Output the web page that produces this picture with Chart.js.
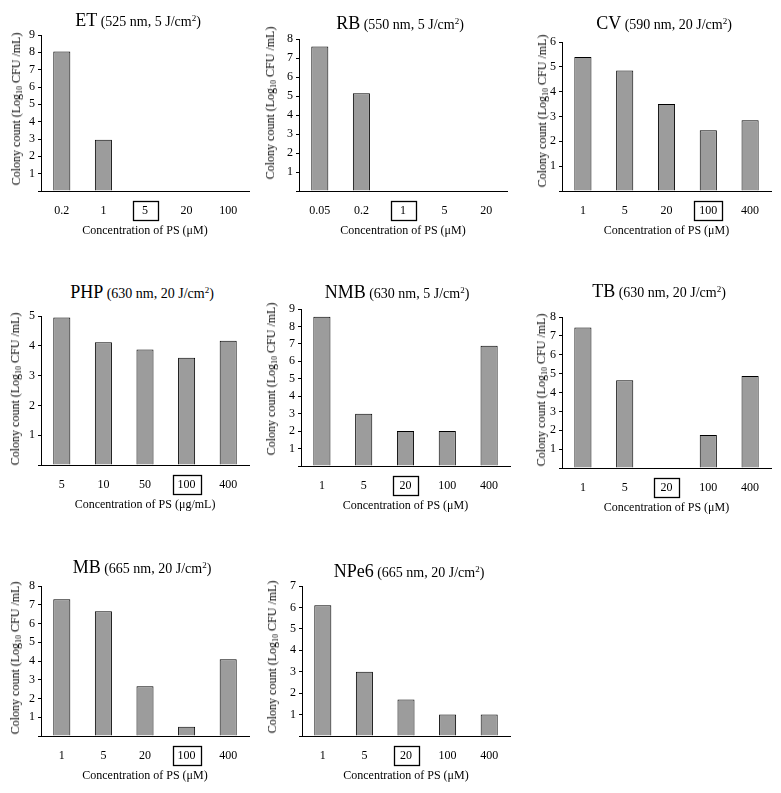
<!DOCTYPE html>
<html lang="en">
<head>
    <meta charset="UTF-8">
    <title>Colony count vs PS concentration</title>
    <script src="https://cdn.jsdelivr.net/npm/chart.js"></script>
    <style>
        body {
            margin: 0;
            background: #fff;
            font-family: "Liberation Serif", "Times New Roman", serif;
        }
        #stage {
            position: relative;
            width: 781px;
            height: 793px;
            overflow: hidden;
        }
        #stage canvas {
            position: absolute;
        }
        .ptitle {
            position: absolute;
            transform: translate(-50%, -50%);
            white-space: nowrap;
            color: #000;
            font-size: 14px;
            line-height: 1;
        }
        .ptitle .ps {
            font-size: 18px;
        }
        .ptitle sup {
            font-size: 9px;
            vertical-align: 5px;
            line-height: 0;
        }
        .ytitle {
            position: absolute;
            transform: translate(-50%, -50%) rotate(-90deg);
            white-space: nowrap;
            color: #000;
            font-size: 12px;
            line-height: 1;
        }
        .ytitle sub {
            font-size: 8px;
            vertical-align: -2px;
            line-height: 0;
        }
    </style>
</head>
<body>
    <div id="stage"></div>

    <script>
        // data (Log10 CFU/mL)
        const etLabels = ['0.2', '1', '5', '20', '100'];
        const etValues = [8.05, 2.95, 0, 0, 0];

        const rbLabels = ['0.05', '0.2', '1', '5', '20'];
        const rbValues = [7.6, 5.15, 0, 0, 0];

        const cvLabels = ['1', '5', '20', '100', '400'];
        const cvValues = [5.4, 4.85, 3.5, 2.45, 2.85];

        const phpLabels = ['5', '10', '50', '100', '400'];
        const phpValues = [4.95, 4.12, 3.88, 3.6, 4.17];

        const nmbLabels = ['1', '5', '20', '100', '400'];
        const nmbValues = [8.55, 3.0, 2.0, 2.0, 6.9];

        const tbLabels = ['1', '5', '20', '100', '400'];
        const tbValues = [7.45, 4.65, 0, 1.75, 4.88];

        const mbLabels = ['1', '5', '20', '100', '400'];
        const mbValues = [7.3, 6.65, 2.65, 0.5, 4.1];

        const npe6Labels = ['1', '5', '20', '100', '400'];
        const npe6Values = [6.1, 3.0, 1.7, 1.0, 1.0];

        // y axis maximum of each panel
        const yMaxes = { et: 9, rb: 8, cv: 6, php: 5, nmb: 9, tb: 8, mb: 8, npe6: 7 };

        // layout: area = [left, right, top, bottom] of plot area; title / yTitle = centre points
        const panels = [
            { id: 'et', name: 'ET', cond: '525 nm, 5 J/cm', unit: 'μM', labels: etLabels, values: etValues, boxed: 2,
              area: [41, 249, 35, 191], title: [138, 20], yTitle: [16, 109] },
            { id: 'rb', name: 'RB', cond: '550 nm, 5 J/cm', unit: 'μM', labels: rbLabels, values: rbValues, boxed: 2,
              area: [299, 507, 39, 191], title: [400, 23], yTitle: [270, 103] },
            { id: 'cv', name: 'CV', cond: '590 nm, 20 J/cm', unit: 'μM', labels: cvLabels, values: cvValues, boxed: 3,
              area: [562, 771, 42, 191], title: [664, 23], yTitle: [542, 111] },
            { id: 'php', name: 'PHP', cond: '630 nm, 20 J/cm', unit: 'μg/mL', labels: phpLabels, values: phpValues, boxed: 3,
              area: [41, 249, 316, 465], title: [142, 292], yTitle: [15, 389] },
            { id: 'nmb', name: 'NMB', cond: '630 nm, 5 J/cm', unit: 'μM', labels: nmbLabels, values: nmbValues, boxed: 2,
              area: [301, 510, 309, 466], title: [397, 292], yTitle: [271, 379] },
            { id: 'tb', name: 'TB', cond: '630 nm, 20 J/cm', unit: 'μM', labels: tbLabels, values: tbValues, boxed: 2,
              area: [562, 771, 317, 468], title: [659, 291], yTitle: [541, 390] },
            { id: 'mb', name: 'MB', cond: '665 nm, 20 J/cm', unit: 'μM', labels: mbLabels, values: mbValues, boxed: 3,
              area: [41, 249, 586, 736], title: [142, 567], yTitle: [15, 658] },
            { id: 'npe6', name: 'NPe6', cond: '665 nm, 20 J/cm', unit: 'μM', labels: npe6Labels, values: npe6Values, boxed: 2,
              area: [302, 510, 586, 736], title: [409, 571], yTitle: [272, 657] }
        ];

        const serif = '"Liberation Serif", "Times New Roman", serif';
        const tickFont = { family: serif, size: 12 };

        // draws the square frame round the highlighted concentration
        const boxLabel = {
            id: 'boxLabel',
            afterDraw(chart, args, opts) {
                if (opts.index == null) return;
                const xs = chart.scales.x;
                const ctx = chart.ctx;
                const x = xs.getPixelForTick(opts.index);
                const yc = chart.chartArea.bottom + 19.5;
                ctx.save();
                ctx.font = '12px ' + serif;
                const w = Math.max(ctx.measureText(chart.data.labels[opts.index]).width + 10, 25);
                const h = 19;
                ctx.strokeStyle = '#000';
                ctx.lineWidth = 1.3;
                ctx.strokeRect(Math.round(x - w / 2) + 0.5, Math.round(yc - h / 2) + 0.5, Math.round(w), h);
                ctx.restore();
            }
        };

        const stage = document.getElementById('stage');

        panels.forEach(p => {
            const [L, R, T, B] = p.area;
            const left = L - 40;
            const top = T - 12;
            const canvas = document.createElement('canvas');
            canvas.width = R - left + 8;
            canvas.height = B - top + 52;
            canvas.style.left = left + 'px';
            canvas.style.top = top + 'px';
            stage.appendChild(canvas);

            // panel title
            const t = document.createElement('div');
            t.className = 'ptitle';
            t.style.left = p.title[0] + 'px';
            t.style.top = p.title[1] + 'px';
            t.innerHTML = '<span class="ps">' + p.name + '</span> (' + p.cond + '<sup>2</sup>)';
            stage.appendChild(t);

            // y axis title with subscript
            const yt = document.createElement('div');
            yt.className = 'ytitle';
            yt.style.left = p.yTitle[0] + 'px';
            yt.style.top = p.yTitle[1] + 'px';
            yt.innerHTML = 'Colony count (Log<sub>10</sub> CFU /mL)';
            stage.appendChild(yt);

            new Chart(canvas, {
                type: 'bar',
                data: {
                    labels: p.labels,
                    datasets: [{
                        data: p.values,
                        backgroundColor: '#9c9c9c',
                        borderColor: '#000',
                        borderWidth: c => (c.raw > 0 ? 1 : 0),
                        barPercentage: 0.41,
                        categoryPercentage: 1
                    }]
                },
                options: {
                    responsive: false,
                    animation: false,
                    layout: { padding: { top: 12, right: 8, left: 0, bottom: 0 } },
                    plugins: {
                        legend: { display: false },
                        tooltip: { enabled: false },
                        boxLabel: { index: p.boxed }
                    },
                    scales: {
                        x: {
                            grid: { display: true, drawOnChartArea: false, drawTicks: false },
                            border: { color: '#000', width: 1 },
                            ticks: { color: '#000', font: tickFont, padding: 13, maxRotation: 0, autoSkip: false },
                            title: {
                                display: true,
                                text: 'Concentration of PS (' + p.unit + ')',
                                color: '#000',
                                font: tickFont,
                                padding: { top: 0, bottom: 5 }
                            },
                            afterFit: s => { s.height = 52; }
                        },
                        y: {
                            min: 0,
                            max: yMaxes[p.id],
                            ticks: {
                                stepSize: 1,
                                autoSkip: false,
                                color: '#000',
                                font: tickFont,
                                padding: 3,
                                callback: v => (v === 0 ? '' : v)
                            },
                            grid: { drawOnChartArea: false, drawTicks: true, tickLength: 3, color: '#000' },
                            border: { color: '#000', width: 1 },
                            afterFit: s => { s.width = 40; }
                        }
                    }
                },
                plugins: [boxLabel]
            });
        });
    </script>
</body>
</html>
